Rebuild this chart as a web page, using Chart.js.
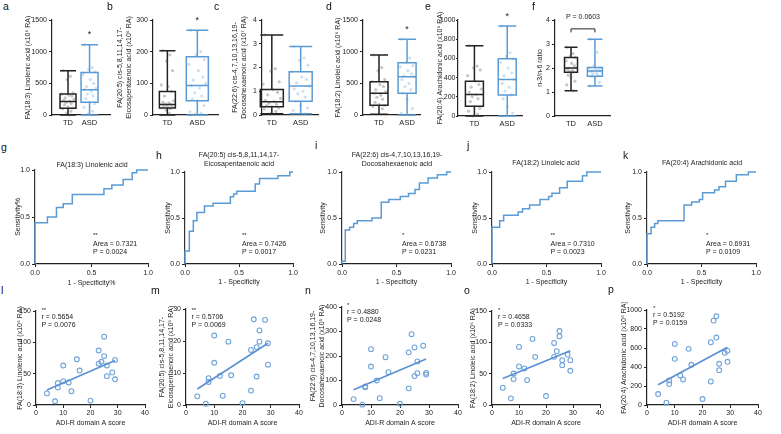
<!DOCTYPE html>
<html><head><meta charset="utf-8">
<script src="https://cdn.jsdelivr.net/npm/chart.js@4.4.1/dist/chart.umd.min.js"></script>
<style>
html,body{margin:0;padding:0;background:#fff;}
#fig{position:relative;width:781px;height:434px;overflow:hidden;font-family:"Liberation Sans",Arial,sans-serif;background:#fff;}
#fig canvas{position:absolute;}
.lab{position:absolute;font-size:10.5px;line-height:10px;color:#111;}
</style></head><body><div id="fig"></div>
<script>
// ---------------- DATA ----------------
const groups = ['TD', 'ASD'];
// box plot stats: [min, q1, median, q3, max]
const linolenicTD = [0, 105, 215, 332, 700];
const linolenicASD = [0, 200, 400, 670, 1110];
const epaTD = [0, 22, 33, 74, 203];
const epaASD = [0, 45, 93, 184, 268];
const dhaTD = [0.05, 0.35, 0.56, 1.07, 3.37];
const dhaASD = [0.05, 0.58, 1.22, 1.82, 2.88];
const linoleicTD = [10, 153, 342, 526, 947];
const linoleicASD = [0, 342, 605, 826, 1195];
const arachTD = [0, 101, 223, 362, 732];
const arachASD = [0, 220, 380, 596, 937];
const ratioTD = [1.05, 1.82, 2.0, 2.44, 2.86];
const ratioASD = [1.25, 1.66, 1.87, 2.02, 3.2];
// individual points shown in the box plots
const linolenicTDpts = [700, 610, 560, 350, 330, 310, 300, 270, 250, 230, 215, 200, 180, 160, 130, 110, 100, 60, 30, 0];
const linolenicASDpts = [1110, 750, 720, 680, 640, 560, 500, 450, 420, 400, 380, 330, 300, 260, 200, 180, 120, 60, 20, 0];
const epaTDpts = [203, 190, 170, 140, 95, 90, 74, 60, 45, 40, 38, 35, 33, 30, 27, 25, 22, 20, 15, 5, 0];
const epaASDpts = [268, 200, 190, 175, 160, 140, 120, 110, 100, 93, 85, 70, 60, 50, 45, 30, 10, 5, 3, 0];
const dhaTDpts = [3.37, 1.95, 1.85, 1.4, 1.3, 1.07, 0.95, 0.85, 0.7, 0.62, 0.56, 0.5, 0.45, 0.4, 0.35, 0.3, 0.25, 0.15, 0.05];
const dhaASDpts = [2.88, 2.4, 2.3, 2.1, 1.82, 1.6, 1.5, 1.35, 1.22, 1.1, 1.0, 0.9, 0.75, 0.58, 0.4, 0.3, 0.2, 0.05];
const linoleicTDpts = [947, 750, 700, 560, 526, 480, 450, 400, 370, 342, 310, 280, 250, 200, 170, 153, 130, 100];
const linoleicASDpts = [1195, 900, 826, 780, 760, 700, 650, 620, 605, 560, 500, 450, 400, 342, 250, 100, 30, 0];
const arachTDpts = [732, 520, 500, 480, 420, 362, 330, 300, 280, 250, 223, 200, 180, 150, 101, 80, 50, 20, 0];
const arachASDpts = [937, 660, 620, 596, 560, 500, 450, 420, 380, 340, 300, 260, 220, 180, 100, 30, 0];
const ratioTDpts = [2.86, 2.6, 2.5, 2.44, 2.3, 2.2, 2.1, 2.0, 2.0, 1.95, 1.9, 1.85, 1.82, 1.7, 1.6, 1.45, 1.3, 1.05];
const ratioASDpts = [3.2, 2.65, 2.1, 2.02, 2.0, 1.95, 1.9, 1.88, 1.87, 1.85, 1.8, 1.75, 1.7, 1.66, 1.6, 1.4, 1.25];
const boxStars = ['*', '*', '', '*', '*', ''];
const ratioP = 'P = 0.0603';

// ROC curves (1 - specificity, sensitivity)
const rocLinolenicFpr = [0, 0, 0.11, 0.19, 0.25, 0.33, 0.61, 0.68, 0.78, 0.86, 0.90, 1.0];
const rocLinolenicTpr = [0, 0.44, 0.5, 0.6, 0.64, 0.74, 0.80, 0.84, 0.90, 0.97, 1.0, 1.0];
const rocEpaFpr = [0, 0, 0.04, 0.077, 0.11, 0.18, 0.26, 0.42, 0.45, 0.48, 0.65, 0.69, 0.86, 0.97, 1];
const rocEpaTpr = [0, 0.14, 0.355, 0.47, 0.56, 0.63, 0.66, 0.73, 0.76, 0.79, 0.87, 0.93, 0.96, 1, 1];
const rocDhaFpr = [0, 0, 0.03, 0.07, 0.107, 0.14, 0.275, 0.36, 0.43, 0.535, 0.61, 0.67, 0.71, 0.79, 0.875, 0.96, 1];
const rocDhaTpr = [0, 0.03, 0.37, 0.40, 0.44, 0.47, 0.5, 0.67, 0.70, 0.735, 0.765, 0.81, 0.88, 0.935, 0.97, 1, 1];
const rocLinoleicFpr = [0, 0, 0.07, 0.107, 0.24, 0.28, 0.345, 0.44, 0.52, 0.55, 0.62, 0.69, 0.83, 0.87, 1];
const rocLinoleicTpr = [0, 0.40, 0.47, 0.53, 0.565, 0.60, 0.64, 0.70, 0.735, 0.77, 0.83, 0.90, 0.96, 1, 1];
const rocArachFpr = [0, 0, 0.037, 0.07, 0.10, 0.34, 0.41, 0.48, 0.51, 0.62, 0.66, 0.72, 0.82, 0.93, 1];
const rocArachTpr = [0, 0.33, 0.40, 0.44, 0.47, 0.64, 0.675, 0.70, 0.775, 0.805, 0.84, 0.90, 0.97, 1, 1];
const rocArea = ['0.7321', '0.7426', '0.6738', '0.7310', '0.6931'];
const rocP = ['0.0024', '0.0017', '0.0231', '0.0023', '0.0109'];
const rocStars = ['**', '**', '*', '**', '*'];

// Correlation with ADI-R domain A score
const adirScore = [4, 7, 8, 8, 10, 10, 12, 13, 15, 16, 20, 23, 23, 24, 25, 25, 26, 26, 28, 29, 29];
const corrLinolenic = [18.5, 6, 35, 28, 38, 63, 36, 22, 73, 55, 7, 87, 66, 69, 109, 78, 63, 46, 52, 72, 41];
const corrEpa = [2.7, 0.4, 8.4, 7.2, 21.7, 13.2, 9.1, 2.9, 19.8, 9.3, 0.6, 17.2, 4.5, 26.8, 18.1, 8.9, 23.3, 19.8, 26.6, 19.3, 12.6];
const corrDha = [24, 1.4, 76, 72, 228, 157, 100, 28, 195, 134, 5, 68, 215, 289, 235, 118, 178, 130, 242, 131, 124];
const corrLinoleic = [27.6, 10.6, 50.3, 41.3, 92.7, 61.5, 58.3, 39.7, 105.5, 76.8, 14.3, 99, 76.8, 85.9, 118, 109.7, 71.5, 63.6, 80.5, 71.5, 54.6];
const corrArach = [115, 24, 259, 220, 643, 486, 311, 269, 591, 423, 63, 661, 248, 888, 934, 710, 434, 367, 549, 570, 455];
const fitX = [4, 29];
const fitLinolenic = [24, 71];
const fitEpa = [5, 19.3];
const fitDha = [62, 188];
const fitLinoleic = [42.4, 86.4];
const fitArach = [213, 608];
const corrR = ['0.5654', '0.5706', '0.4880', '0.4658', '0.5192'];
const corrP = ['0.0076', '0.0069', '0.0248', '0.0333', '0.0159'];
const corrStars = ['**', '**', '*', '*', '*'];

// ---------------- RENDERING ----------------
const FONT = "'Liberation Sans', Arial, Helvetica, sans-serif";
Chart.defaults.font.family = FONT;
Chart.defaults.font.size = 7;
Chart.defaults.color = '#222';
const INK = '#222';
const BLUE = '#5b9bd5';
const LH = 8.4;
const FIG = document.getElementById('fig');

function letter(t, x, base) {
  const d = document.createElement('div');
  d.className = 'lab'; d.textContent = t;
  d.style.left = x + 'px'; d.style.top = (base - 8.5) + 'px';
  FIG.appendChild(d);
}

function frame(g) {
  const left = Math.round(g.ytx - LH / 2);
  const top = g.T - g.topPad;
  const right = g.R + (g.rightPad || 9);
  const bottom = g.xty ? Math.round(g.xty + LH / 2) : g.B + 14;
  const c = document.createElement('canvas');
  c.width = right - left; c.height = bottom - top;
  c.style.left = left + 'px'; c.style.top = top + 'px';
  c.style.width = (right - left) + 'px'; c.style.height = (bottom - top) + 'px';
  FIG.appendChild(c);
  return {canvas: c, yW: g.L - left, xH: bottom - g.B, padTop: g.topPad, padRight: right - g.R};
}

function yAxis(f, max, step, title, fmt, tl, pad) {
  return {
    type: 'linear', min: 0, max: max,
    ticks: {stepSize: step, color: INK, padding: pad === undefined ? 2 : pad, font: {size: 7}, callback: fmt || (v => String(v))},
    grid: {drawOnChartArea: false, tickLength: tl || 3, color: INK, tickWidth: 1},
    border: {color: INK, width: 1.2},
    title: {display: true, text: title, color: INK, padding: 0, font: {size: 7}},
    afterFit(s) { s.width = f.yW; }
  };
}

function opts(f, xs, ys, plugins) {
  return {
    responsive: false, animation: false, devicePixelRatio: 1,
    layout: {padding: {left: 0, top: f.padTop, right: f.padRight, bottom: 0}},
    plugins: Object.assign({legend: {display: false}, tooltip: {enabled: false}}, plugins || {}),
    scales: {x: xs, y: ys}
  };
}

const boxPlot = {
  id: 'boxPlot',
  beforeDatasetsDraw(chart, args, o) {
    if (!o.stats) return;
    const {ctx, scales: {x, y}} = chart;
    o.stats.forEach((s, i) => {
      const cx = x.getPixelForValue(i + 1);
      const w = o.widths[i];
      const p = s.map(v => y.getPixelForValue(v));
      ctx.save();
      ctx.strokeStyle = o.colors[i]; ctx.lineWidth = 1.5;
      ctx.beginPath();
      ctx.moveTo(cx, p[3]); ctx.lineTo(cx, p[4]);
      ctx.moveTo(cx - w / 2, p[4]); ctx.lineTo(cx + w / 2, p[4]);
      ctx.moveTo(cx, p[1]); ctx.lineTo(cx, p[0]);
      ctx.moveTo(cx - w / 2, p[0]); ctx.lineTo(cx + w / 2, p[0]);
      ctx.moveTo(cx - w / 2, p[2]); ctx.lineTo(cx + w / 2, p[2]);
      ctx.rect(cx - w / 2, p[3], w, p[1] - p[3]);
      ctx.stroke();
      ctx.restore();
    });
  },
  afterDatasetsDraw(chart, args, o) {
    if (!o.stats) return;
    const {ctx, scales: {x, y}} = chart;
    ctx.save(); ctx.fillStyle = INK;
    if (o.star) {
      ctx.font = '9px ' + FONT; ctx.textAlign = 'center'; ctx.textBaseline = 'middle';
      ctx.fillText(o.star, x.getPixelForValue(2), y.getPixelForValue(o.stats[1][4]) - 10);
    }
    if (o.bracket) {
      const x1 = x.getPixelForValue(1), x2 = x.getPixelForValue(2);
      const yb = y.getPixelForValue(o.bracket.at);
      ctx.strokeStyle = INK; ctx.lineWidth = 1;
      ctx.beginPath();
      ctx.moveTo(x1, yb + 3.5); ctx.lineTo(x1, yb); ctx.lineTo(x2, yb); ctx.lineTo(x2, yb + 3.5);
      ctx.stroke();
      ctx.font = '7px ' + FONT; ctx.textAlign = 'center'; ctx.textBaseline = 'middle';
      ctx.fillText(o.bracket.text, (x1 + x2) / 2, chart.chartArea.top - 3);
    }
    ctx.restore();
  }
};

const notes = {
  id: 'notes',
  afterDatasetsDraw(chart, args, o) {
    if (!o.items) return;
    const {ctx, chartArea: a} = chart;
    ctx.save(); ctx.fillStyle = INK; ctx.textBaseline = 'middle';
    o.items.forEach(it => {
      ctx.font = (it.size || 7) + 'px ' + FONT;
      ctx.textAlign = it.align || 'left';
      ctx.fillText(it.text, a.left + it.dx, a.top + it.dy);
    });
    ctx.restore();
  }
};
Chart.register(boxPlot, notes);

const jitter = [-0.3, 0.15, -0.05, 0.32, -0.38, 0.05, 0.25, -0.18, 0.38, -0.28, 0.1, -0.12, 0.2, -0.22, 0, 0.3, -0.33, 0.18, -0.08, 0.12, -0.35];

// ---- Box plot panels ----
const boxPanels = [
  {L: 52, R: 110, T: 20, B: 115, ytx: 28, xmin: 0.256, xmax: 2.95, max: 1500, step: 500,
   title: 'FA(18:3) Linolenic acid (x10⁶ RA)', s: [linolenicTD, linolenicASD], pts: [linolenicTDpts, linolenicASDpts], w: [16, 17], star: boxStars[0]},
  {L: 153, R: 218, T: 20, B: 115, ytx: 120, xmin: 0.52, xmax: 2.69, max: 300, step: 100,
   title: ['FA(20:5) cis-5,8,11,14,17-', 'Eicosapentaenoic acid (x10⁶ RA)'], s: [epaTD, epaASD], pts: [epaTDpts, epaASDpts], w: [16, 22], star: boxStars[1]},
  {L: 262, R: 318, T: 20, B: 115, ytx: 235, xmin: 0.66, xmax: 2.6, max: 4, step: 1,
   title: ['FA(22:6) cis-4,7,10,13,16,19-', 'Docosahexaenoic acid (x10⁷ RA)'], s: [dhaTD, dhaASD], pts: [dhaTDpts, dhaASDpts], w: [23, 23], star: boxStars[2]},
  {L: 363, R: 420, T: 20, B: 115, ytx: 338, xmin: 0.43, xmax: 2.46, max: 1500, step: 500,
   title: 'FA(18:2) Linoleic acid (x10⁶ RA)', s: [linoleicTD, linoleicASD], pts: [linoleicTDpts, linoleicASDpts], w: [18, 18], star: boxStars[3]},
  {L: 458, R: 522, T: 20, B: 116, ytx: 440.5, xmin: 0.5, xmax: 2.45, max: 1000, step: 200, tl: 2, pad: 0.5,
   title: 'FA(20:4) Arachidonic acid (x10⁶ RA)', s: [arachTD, arachASD], pts: [arachTDpts, arachASDpts], w: [18, 18], star: boxStars[4]},
  {L: 555, R: 610, T: 20, B: 116, ytx: 540, xmin: 0.33, xmax: 2.63, max: 4, step: 1,
   title: 'n-3/n-6 ratio', s: [ratioTD, ratioASD], pts: [ratioTDpts, ratioASDpts], w: [13, 15], star: boxStars[5], bracket: {at: 3.63, text: ratioP}}
];

boxPanels.forEach(g => {
  g.topPad = 12;
  const f = frame(g);
  const upp = (g.xmax - g.xmin) / (g.R - g.L);
  const colors = [INK, BLUE];
  const dotCol = ['rgba(70,70,70,0.3)', 'rgba(91,155,213,0.3)'];
  const datasets = g.pts.map((arr, gi) => ({
    type: 'scatter',
    data: arr.map((v, k) => ({x: gi + 1 + jitter[k % jitter.length] * g.w[gi] * upp, y: v})),
    pointRadius: 1.6, pointBackgroundColor: dotCol[gi], pointBorderWidth: 0, clip: false
  }));
  const xs = {
    type: 'linear', min: g.xmin, max: g.xmax,
    afterBuildTicks(s) { s.ticks = [{value: 1}, {value: 2}]; },
    ticks: {callback: v => groups[v - 1], color: INK, padding: 3, autoSkip: false, maxRotation: 0, font: {size: 7.5}},
    grid: {drawOnChartArea: false, drawTicks: false},
    border: {color: INK, width: 1.2},
    afterFit(s) { s.height = f.xH; }
  };
  new Chart(f.canvas, {
    type: 'scatter', data: {datasets},
    options: opts(f, xs, yAxis(f, g.max, g.step, g.title, null, g.tl, g.pad),
      {boxPlot: {stats: g.s, widths: g.w, colors, star: g.star, bracket: g.bracket}})
  });
});

// ---- ROC panels ----
const rocPanels = [
  {L: 35, R: 148, T: 170, B: 264, ytx: 18, xty: 282.5, fpr: rocLinolenicFpr, tpr: rocLinolenicTpr,
   title: ['FA(18:3) Linolenic acid'], tdy: -5, tdx: 57, ytitle: 'Sensitivity%', xtitle: '1 - Specificity%', ndx: 58, ndy: 65},
  {L: 185, R: 293, T: 172, B: 264, ytx: 168, xty: 282, fpr: rocEpaFpr, tpr: rocEpaTpr,
   title: ['FA(20:5) cis-5,8,11,14,17-', 'Eicosapentaenoic acid'], tdy: -17, tdx: 54, ytitle: 'Sensitivity', xtitle: '1 - Specificity', ndx: 57, ndy: 63},
  {L: 342, R: 451, T: 172, B: 264, ytx: 323, xty: 282, fpr: rocDhaFpr, tpr: rocDhaTpr,
   title: ['FA(22:6) cis-4,7,10,13,16,19-', 'Docosahexaenoic acid'], tdy: -17, tdx: 55, ytitle: 'Sensitivity', xtitle: '1 - Specificity', ndx: 60, ndy: 63},
  {L: 492, R: 601, T: 172, B: 264, ytx: 475, xty: 282, fpr: rocLinoleicFpr, tpr: rocLinoleicTpr,
   title: ['FA(18:2) Linoleic acid'], tdy: -9, tdx: 54, ytitle: 'Sensitivity', xtitle: '1 - Specificity', ndx: 58.5, ndy: 63},
  {L: 647, R: 756, T: 172, B: 264, ytx: 628, xty: 282, fpr: rocArachFpr, tpr: rocArachTpr,
   title: ['FA(20:4) Arachidonic acid'], tdy: -9, tdx: 55, ytitle: 'Sensitivity', xtitle: '1 - Specificity', ndx: 59, ndy: 63}
];

rocPanels.forEach((g, i) => {
  g.topPad = 24;
  const f = frame(g);
  const fmt = v => Number(v).toFixed(1);
  const xs = {
    type: 'linear', min: 0, max: 1,
    ticks: {stepSize: 0.5, color: INK, padding: 1.5, font: {size: 7}, callback: fmt, maxRotation: 0},
    grid: {drawOnChartArea: false, tickLength: 3, color: INK},
    border: {color: INK, width: 1.2},
    title: {display: true, text: g.xtitle, color: INK, padding: 0, font: {size: 7}},
    afterFit(s) { s.height = f.xH; }
  };
  const ys = yAxis(f, 1, 0.5, g.ytitle, fmt);
  ys.border.color = '#333';
  const items = g.title.map((t, k) => ({text: t, dx: g.tdx, dy: g.tdy + k * 9, align: 'center'}));
  items.push({text: rocStars[i], dx: g.ndx, dy: g.ndy, size: 6});
  items.push({text: 'Area = ' + rocArea[i], dx: g.ndx, dy: g.ndy + 9});
  items.push({text: 'P = ' + rocP[i], dx: g.ndx, dy: g.ndy + 17.5});
  new Chart(f.canvas, {
    type: 'line',
    data: {datasets: [{
      data: g.fpr.map((v, k) => ({x: v, y: g.tpr[k]})),
      stepped: 'before', borderColor: BLUE, borderWidth: 1.5, pointRadius: 0, fill: false, clip: false
    }]},
    options: opts(f, xs, ys, {notes: {items}})
  });
});

// ---- Correlation panels ----
const corrPanels = [
  {L: 36, R: 145, T: 311, B: 405, ytx: 20, xty: 423, max: 150, step: 50, y: corrLinolenic, fit: fitLinolenic,
   title: 'FA(18:3) Linolenic acid (x10⁶ RA)', ndx: 5.5, ndy: -1},
  {L: 186, R: 299, T: 309, B: 405, ytx: 162, xty: 423, max: 30, step: 10, y: corrEpa, fit: fitEpa,
   title: ['FA(20:5) cis-5,8,11,14,17-', 'Eicosapentaenoic acid (x10⁶ RA)'], ndx: 5.5, ndy: 1},
  {L: 342, R: 458, T: 307, B: 405, ytx: 313, xty: 423, max: 400, step: 100, y: corrDha, fit: fitDha,
   title: ['FA(22:6) cis-4,7,10,13,16,19-', 'Docosahexaenoic acid (x10⁵ RA)'], ndx: 5, ndy: -2},
  {L: 492, R: 600, T: 311, B: 405, ytx: 473, xty: 423, max: 150, step: 50, y: corrLinoleic, fit: fitLinoleic,
   title: 'FA(18:2) Linoleic acid (x10⁶ RA)', ndx: 6, ndy: -1},
  {L: 647, R: 758, T: 310, B: 405, ytx: 624, xty: 423, max: 1000, step: 200, y: corrArach, fit: fitArach,
   title: 'FA(20:4) Arachidonic acid (x10⁶ RA)', ndx: 6, ndy: -2}
];

corrPanels.forEach((g, i) => {
  g.topPad = 8;
  const f = frame(g);
  const xs = {
    type: 'linear', min: 0, max: 40,
    ticks: {stepSize: 10, color: INK, padding: 1, font: {size: 7}, maxRotation: 0},
    grid: {drawOnChartArea: false, tickLength: 3, color: INK},
    border: {color: INK, width: 1.2},
    title: {display: true, text: 'ADI-R domain A score', color: INK, padding: 0, font: {size: 7}},
    afterFit(s) { s.height = f.xH; }
  };
  const items = [
    {text: corrStars[i], dx: g.ndx, dy: g.ndy, size: 6},
    {text: 'r = ' + corrR[i], dx: g.ndx, dy: g.ndy + 7.5},
    {text: 'P = ' + corrP[i], dx: g.ndx, dy: g.ndy + 15}
  ];
  new Chart(f.canvas, {
    type: 'scatter',
    data: {datasets: [
      {type: 'line', data: fitX.map((v, k) => ({x: v, y: g.fit[k]})), borderColor: '#5a8fd4', borderWidth: 1.6, pointRadius: 0, fill: false},
      {type: 'scatter', data: adirScore.map((v, k) => ({x: v, y: g.y[k]})),
       pointRadius: 2.4, pointBorderColor: '#6fa3da', pointBackgroundColor: 'rgba(255,255,255,0)', pointBorderWidth: 1.1, clip: false}
    ]},
    options: opts(f, xs, yAxis(f, g.max, g.step, g.title), {notes: {items}})
  });
});

// panel letters
[['a', 3, 9], ['b', 107, 9], ['c', 214, 9], ['d', 326, 9], ['e', 425, 9], ['f', 532, 9],
 ['g', 1, 150], ['h', 156, 158], ['i', 315, 148], ['j', 467, 148], ['k', 623, 158],
 ['l', 1, 293], ['m', 151, 293], ['n', 305, 293], ['o', 464, 293], ['p', 608, 292]
].forEach(a => letter(a[0], a[1], a[2]));
</script>
</body></html>
